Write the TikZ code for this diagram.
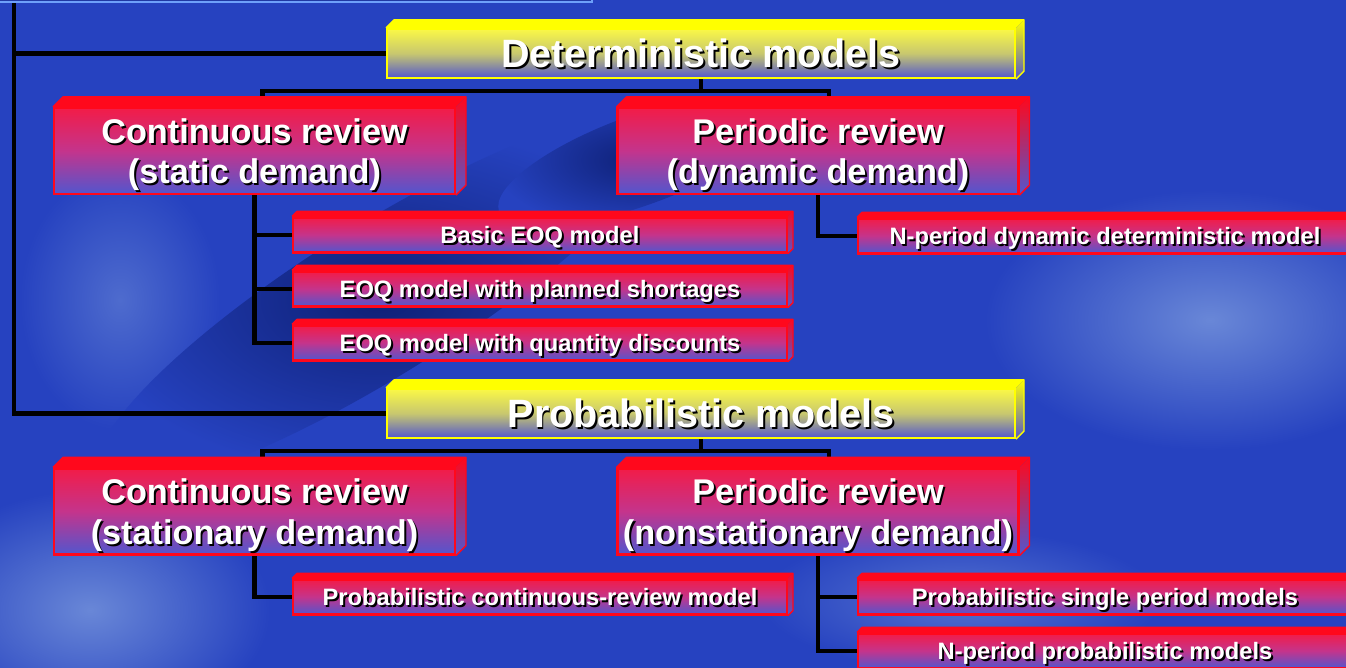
\documentclass[tikz,border=0pt]{standalone}
\usepackage{fontspec}
\setmainfont{Liberation Sans}
\usetikzlibrary{calc, backgrounds}
\definecolor{deepblue}{RGB}{38, 66, 192}
\definecolor{chainblue}{RGB}{14, 32, 118}
\definecolor{hazeblue}{RGB}{105, 135, 215}
\definecolor{rimred}{RGB}{255, 8, 28}
\definecolor{facered}{RGB}{242, 28, 72}
\definecolor{facemag}{RGB}{196, 52, 140}
\definecolor{faceblue}{RGB}{82, 86, 206}
\definecolor{rimyellow}{RGB}{255, 255, 0}
\definecolor{faceyellow}{RGB}{250, 248, 70}
\definecolor{titlerim}{RGB}{110, 160, 250}
\newcommand{\shadowed}[1]{\leavevmode\rlap{\kern1.1pt\raisebox{-1.1pt}{\color{black}#1}}#1}

\begin{document}
\begin{tikzpicture}[x=0.02cm, y=-0.02cm,
  slab/.style n args={3}{append after command={\pgfextra{%
      \fill[#1] (\tikzlastnode.north west) -- ++(#3,-#3)
        -- ($(\tikzlastnode.north east)+(#3,-#3)$) -- (\tikzlastnode.north east) -- cycle;
      \shade[top color=#1, bottom color=#2] (\tikzlastnode.north east) -- ++(#3,-#3)
        -- ($(\tikzlastnode.south east)+(#3,-#3)$) -- (\tikzlastnode.south east) -- cycle;
      \draw[#1, line width=0.8pt, line join=round] (\tikzlastnode.north west) -- ++(#3,-#3)
        -- ($(\tikzlastnode.north east)+(#3,-#3)$) -- ($(\tikzlastnode.south east)+(#3,-#3)$)
        -- (\tikzlastnode.south east);}}},
  card/.style={inner sep=0pt, align=center, text=white, text depth=0pt, line width=1.2pt},
  headcard/.style={card, draw=rimyellow, top color=faceyellow, bottom color=faceblue,
                   middle color=faceyellow!70!faceblue, minimum width=12.56cm, minimum height=0.98cm,
                   slab={rimyellow}{faceblue}{8}, font=\fontsize{22.5}{26}\selectfont\bfseries},
  midcard/.style={card, draw=rimred, top color=facered, bottom color=faceblue,
                  middle color=facemag, minimum width=8.02cm, minimum height=1.72cm,
                  slab={rimred}{faceblue}{10}, font=\fontsize{19.5}{23}\selectfont\bfseries},
  leafcard/.style={card, draw=rimred, top color=facered, bottom color=faceblue,
                   middle color=facemag, minimum width=9.88cm, minimum height=0.7cm,
                   slab={rimred}{faceblue}{5}, font=\fontsize{13.5}{16}\selectfont\bfseries},
  link/.style={line width=2.6pt, black}
]
  \useasboundingbox (0,0) rectangle (1346,668);

  % heading bar running off the top edge
  \node[draw=titlerim, fill=deepblue!85!black, line width=1pt, inner sep=0pt,
        minimum width=12.04cm, minimum height=0.84cm] (title) at (291,-19) {};

  \node[headcard] (det) at (701,53.5) {\shadowed{Deterministic models}};
  \node[midcard] (crstatic) at (254.5,151) {\shadowed{Continuous review}\\\shadowed{(static demand)}};
  \node[midcard] (prdynamic) at (818,151) {\shadowed{Periodic review}\\\shadowed{(dynamic demand)}};
  \node[leafcard] (eoqbasic) at (540,235) {\shadowed{Basic EOQ model}};
  \node[leafcard] (eoqshort) at (540,289) {\shadowed{EOQ model with planned shortages}};
  \node[leafcard] (eoqdisc) at (540,343) {\shadowed{EOQ model with quantity discounts}};
  \node[leafcard] (nperdyn) at (1105,236) {\shadowed{N-period dynamic deterministic model}};

  \node[headcard] (prob) at (701,413.5) {\shadowed{Probabilistic models}};
  \node[midcard] (crstat) at (254.5,511.5) {\shadowed{Continuous review}\\\shadowed{(stationary demand)}};
  \node[midcard] (prnonstat) at (818,511.5) {\shadowed{Periodic review}\\\shadowed{(nonstationary demand)}};
  \node[leafcard] (probcont) at (540,597) {\shadowed{Probabilistic continuous-review model}};
  \node[leafcard] (probsingle) at (1105,597) {\shadowed{Probabilistic single period models}};
  \node[leafcard] (nperprob) at (1105,651) {\shadowed{N-period probabilistic models}};

  \begin{scope}[on background layer]
    % backdrop: blue with a blurred chain link
    \fill[deepblue] (0,0) rectangle (1346,668);
    \shade[inner color=hazeblue, outer color=deepblue] (90,610) ellipse (3.6cm and 2.4cm);
    \shade[inner color=hazeblue, outer color=deepblue] (1210,320) ellipse (4.5cm and 2.6cm);
    \shade[inner color=hazeblue!70!deepblue, outer color=deepblue] (960,600) ellipse (4cm and 1.4cm);
    \shade[inner color=hazeblue!60!deepblue, outer color=deepblue] (120,300) ellipse (2cm and 2.6cm);
    \shade[rotate around={32:(380,300)}, inner color=chainblue, outer color=deepblue]
      (380,300) ellipse (6.6cm and 1.5cm);
    \shade[rotate around={20:(640,160)}, inner color=chainblue, outer color=deepblue]
      (640,160) ellipse (3cm and 0.9cm);

    \coordinate (spinetop) at (14,-5);
    \draw[link] (spinetop) |- (det.west);
    \draw[link] (spinetop) |- (prob.west);

    \draw[link] (det.south) -- ++(0,12) -| ([xshift=0.16cm]crstatic.north);
    \draw[link] (det.south) ++(0,12) -| ([xshift=0.22cm]prdynamic.north);
    \draw[link] (crstatic.south) |- (eoqbasic.west);
    \draw[link] (crstatic.south) |- (eoqshort.west);
    \draw[link] (crstatic.south) |- (eoqdisc.west);
    \draw[link] (prdynamic.south) |- (nperdyn.west);

    \draw[link] (prob.south) -- ++(0,12) -| ([xshift=0.16cm]crstat.north);
    \draw[link] (prob.south) ++(0,12) -| ([xshift=0.22cm]prnonstat.north);
    \draw[link] (crstat.south) |- (probcont.west);
    \draw[link] (prnonstat.south) |- (probsingle.west);
    \draw[link] (prnonstat.south) |- (nperprob.west);
  \end{scope}
\end{tikzpicture}
\end{document}
